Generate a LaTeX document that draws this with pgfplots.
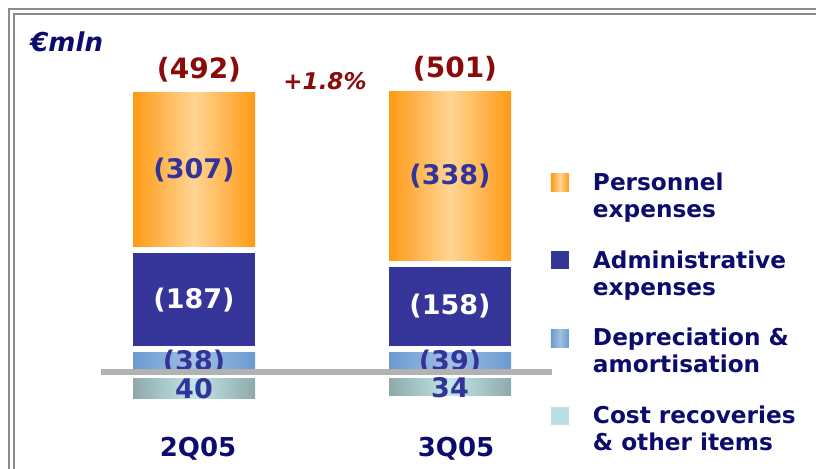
\documentclass[border=0pt]{standalone}
\usepackage{fontspec}
\setmainfont{DejaVu Sans}
\usepackage{pgfplots}
\pgfplotsset{compat=1.18}

\definecolor{orgedge}{HTML}{FF9A14}
\definecolor{orgmid}{HTML}{FFD594}
\definecolor{admin}{HTML}{36359A}
\definecolor{depedge}{HTML}{6A9ACF}
\definecolor{depmid}{HTML}{A2C0E4}
\definecolor{costedge}{HTML}{8FA9A9}
\definecolor{costmid}{HTML}{C0E6E8}
\definecolor{costkey}{HTML}{B8E1E1}
\definecolor{darkred}{HTML}{8B0A0A}
\definecolor{navytxt}{HTML}{0C0C6E}
\definecolor{barlbl}{HTML}{33339A}
\definecolor{framegray}{HTML}{8C8C8C}
\definecolor{zerogray}{HTML}{B2B2B2}

% one axis frame for everything: x in pixels, y in EUR mln (0.5 px per mln)
\pgfplotsset{
  slide/.style={scale only axis, width=408bp, height=234.5bp,
    xmin=0, xmax=816, ymin=-194, ymax=744, hide axis, clip=false},
  onebar/.style={slide, ybar stacked, bar width=61bp},
  gap/.style={draw=none, fill=none},
  pers/.style={draw=none, left color=orgedge, right color=orgedge, middle color=orgmid},
  adm/.style={draw=none, fill=admin},
  dep/.style={draw=none, left color=depedge, right color=depedge, middle color=depmid},
  cost/.style={draw=none, left color=costedge, right color=costedge, middle color=costmid},
}
\tikzset{seglbl/.style={font=\fontsize{13.5bp}{16bp}\selectfont\bfseries}}

\begin{document}
\begin{tikzpicture}
% 2Q05 (each bar in its own axis so that the shading fits the bar)
\begin{axis}[onebar]
  \addplot[gap] coordinates {(194,-14)};
  \addplot[cost] coordinates {(194,-40)};
  \addplot[dep] coordinates {(194,38)};
  \addplot[gap] coordinates {(194,13)};
  \addplot[adm] coordinates {(194,187)};
  \addplot[gap] coordinates {(194,13)};
  \addplot[pers] coordinates {(194,307)};
\end{axis}
% 3Q05
\begin{axis}[onebar]
  \addplot[gap] coordinates {(450,-14)};
  \addplot[cost] coordinates {(450,-34)};
  \addplot[dep] coordinates {(450,39)};
  \addplot[gap] coordinates {(450,13)};
  \addplot[adm] coordinates {(450,158)};
  \addplot[gap] coordinates {(450,13)};
  \addplot[pers] coordinates {(450,338)};
\end{axis}
% labels, legend, zero line, frame
\begin{axis}[slide,
    legend style={at={(551/816,1-173/469)}, anchor=north west,
      draw=none, fill=none, inner sep=0pt, outer sep=0pt,
      row sep=15bp, column sep=12bp, text=navytxt,
      font=\fontsize{11.6bp}{13.5bp}\selectfont\bfseries,
      nodes={inner sep=0pt, align=left}},
    legend cell align=left,
  ]
  \addlegendimage{legend image code/.code={\path[draw=none,left color=orgedge,right color=orgedge,middle color=orgmid] (0bp,2.5bp) rectangle (9bp,11.5bp);}}
  \addlegendentry{Personnel\\expenses}
  \addlegendimage{legend image code/.code={\path[draw=none,fill=admin] (0bp,2.5bp) rectangle (9bp,11.5bp);}}
  \addlegendentry{Administrative\\expenses}
  \addlegendimage{legend image code/.code={\path[draw=none,left color=depedge,right color=depedge,middle color=depmid] (0bp,2.5bp) rectangle (9bp,11.5bp);}}
  \addlegendentry{Depreciation \&\\amortisation}
  \addlegendimage{legend image code/.code={\path[draw=none,fill=costkey] (0bp,2.5bp) rectangle (9bp,11.5bp);}}
  \addlegendentry{Cost recoveries\\\& other items}

  \node[seglbl, text=barlbl] at (axis cs:194,404.5) {(307)};
  \node[seglbl, text=barlbl] at (axis cs:450,392) {(338)};
  \node[seglbl, text=white] at (axis cs:194,144.5) {(187)};
  \node[seglbl, text=white] at (axis cs:450,131) {(158)};
  \node[seglbl, text=barlbl] at (axis cs:194,19) {(38)};
  \node[seglbl, text=barlbl] at (axis cs:450,19.5) {(39)};
  \node[seglbl, text=barlbl] at (axis cs:194,-34) {40};
  \node[seglbl, text=barlbl] at (axis cs:450,-31) {34};

  \draw[zerogray, line width=3bp] (axis cs:101,0) -- (axis cs:552,0);

  \node[text=darkred, font=\fontsize{14bp}{17bp}\selectfont\bfseries] at (axis cs:199,604) {(492)};
  \node[text=darkred, font=\fontsize{14bp}{17bp}\selectfont\bfseries] at (axis cs:455,607) {(501)};
  \node[text=darkred, font=\fontsize{11.5bp}{14bp}\selectfont\bfseries\itshape] at (axis cs:325,582) {+1.8\%};
  \node[text=navytxt, anchor=base west, inner sep=0pt, font=\fontsize{13bp}{16bp}\selectfont\bfseries\itshape] at (axis cs:30,640) {€mln};

  \node[text=navytxt, anchor=base, font=\fontsize{13bp}{16bp}\selectfont\bfseries] at (axis cs:198,-170) {2Q05};
  \node[text=navytxt, anchor=base, font=\fontsize{13bp}{16bp}\selectfont\bfseries] at (axis cs:456,-170) {3Q05};

  \draw[framegray, line width=1bp] (axis cs:9,-194) -- (axis cs:9,726) -- (axis cs:816,726);
  \draw[framegray, line width=1bp] (axis cs:14,-194) -- (axis cs:14,716) -- (axis cs:816,716);
\end{axis}
\pgfresetboundingbox
\useasboundingbox (current axis.south west) rectangle (current axis.north east);
\end{tikzpicture}
\end{document}
